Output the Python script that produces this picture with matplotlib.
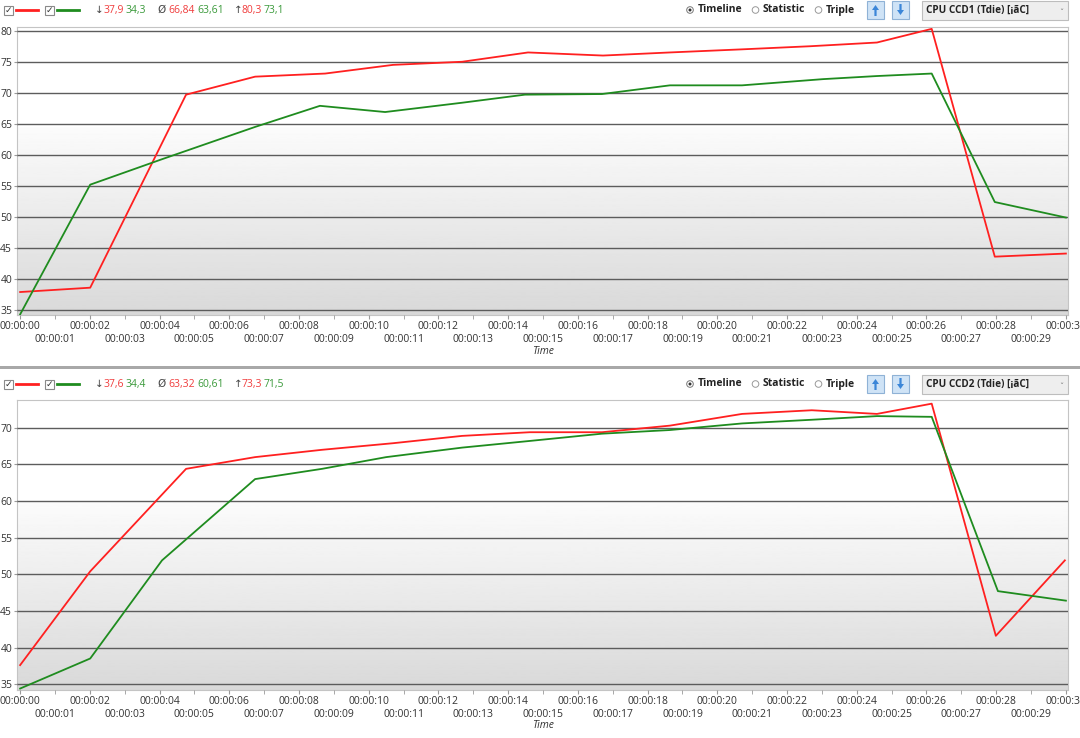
import numpy as np
import matplotlib
matplotlib.use("Agg")
import matplotlib.pyplot as plt
from matplotlib.patches import Rectangle, FancyArrow

plt.rcParams['font.family'] = ['Open Sans', 'DejaVu Sans']

# ---- data (seconds, degC) ----
top_red_t = [0, 2.01, 4.76, 6.74, 8.75, 10.7, 12.68, 14.57, 16.72, 18.64, 20.71, 22.66, 24.58, 26.15, 27.96, 30.0]
top_red_v = [37.9, 38.6, 69.7, 72.6, 73.1, 74.5, 75.0, 76.5, 76.0, 76.5, 77.0, 77.5, 78.1, 80.3, 43.6, 44.1]
top_green_t = [0, 2.01, 4.07, 6.74, 8.6, 10.47, 12.68, 14.48, 16.69, 18.64, 20.71, 23.03, 24.58, 26.15, 27.96, 30.0]
top_green_v = [34.3, 55.2, 59.3, 64.5, 67.9, 66.9, 68.4, 69.7, 69.8, 71.2, 71.2, 72.2, 72.7, 73.1, 52.4, 49.9]

bot_red_t = [0, 2.01, 4.76, 6.74, 8.66, 10.7, 12.68, 14.62, 16.69, 18.64, 20.71, 22.71, 24.58, 26.15, 27.99, 29.97]
bot_red_v = [37.6, 50.4, 64.4, 66.0, 67.0, 67.9, 68.9, 69.4, 69.4, 70.3, 71.9, 72.4, 71.9, 73.3, 41.6, 51.9]
bot_green_t = [0, 2.01, 4.07, 6.74, 8.66, 10.5, 12.68, 14.6, 16.69, 18.64, 20.71, 22.7, 24.58, 26.15, 28.05, 30.0]
bot_green_v = [34.4, 38.5, 51.9, 63.0, 64.4, 66.0, 67.3, 68.2, 69.2, 69.7, 70.6, 71.1, 71.6, 71.5, 47.7, 46.4]

top_stats = [("37,9", "34,3"), ("66,84", "63,61"), ("80,3", "73,1")]
bot_stats = [("37,6", "34,4"), ("63,32", "60,61"), ("73,3", "71,5")]
top_sensor = "CPU CCD1 (Tdie) [¡ãC]"
bot_sensor = "CPU CCD2 (Tdie) [¡ãC]"

even_s = list(range(0, 31, 2))
odd_s = list(range(1, 30, 2))
even_labels = ["00:00:%02d" % s for s in even_s]
odd_labels = ["00:00:%02d" % s for s in odd_s]

RED = "#ff2020"; GREEN = "#1f8c1f"
RED_T = "#f03c3c"; GREEN_T = "#3b9a3b"; DARK = "#333333"

W, H = 1080, 738
fig = plt.figure(figsize=(W / 100, H / 100), dpi=100)
fig.patch.set_facecolor("white")

def px_axes(l, t, r, b):
    return fig.add_axes([l / W, 1 - b / H, (r - l) / W, (b - t) / H])

def gradient(ax):
    n = 300
    col = np.ones(n)
    k = int(n * 0.35)
    col[k:] = np.linspace(0.985, 0.85, n - k)
    ax.imshow(col[:, None], cmap="gray", vmin=0, vmax=1, aspect="auto",
              extent=(0, 1, 0, 1), transform=ax.transAxes, zorder=0)

def panel(ax, rt, rv, gt, gv, ylim, yticks):
    gradient(ax)
    ax.plot(rt, rv, color=RED, lw=1.3, zorder=3)
    ax.plot(gt, gv, color=GREEN, lw=1.3, zorder=3)
    ax.set_xlim(-0.09, 30.06)
    ax.set_ylim(*ylim)
    ax.set_yticks(yticks)
    ax.set_yticklabels([str(v) for v in yticks])
    ax.set_xticks(even_s)
    ax.set_xticklabels(even_labels)
    ax.set_xticks(odd_s, minor=True)
    ax.set_xticklabels(odd_labels, minor=True)
    ax.grid(axis="y", color="#5c5c5c", lw=1.0, zorder=1)
    ax.set_axisbelow(False)
    for s in ax.spines.values():
        s.set_color("#c4c4c4")
    ax.tick_params(axis="x", which="major", length=3, pad=1.5, labelsize=7.5,
                   colors="#9a9a9a", labelcolor=DARK)
    ax.tick_params(axis="x", which="minor", length=3, pad=10.8, labelsize=7.5,
                   colors="#9a9a9a", labelcolor=DARK)
    ax.tick_params(axis="y", length=2.5, pad=1, labelsize=7.5, colors="#9a9a9a", labelcolor=DARK)

ax1 = px_axes(17, 27, 1068, 315)
panel(ax1, top_red_t, top_red_v, top_green_t, top_green_v, (34.2, 80.6), list(range(35, 81, 5)))
ax2 = px_axes(17, 400, 1068, 690)
panel(ax2, bot_red_t, bot_red_v, bot_green_t, bot_green_v, (34.2, 73.8), list(range(35, 71, 5)))

# overlay in pixel coordinates for UI header elements
ov = fig.add_axes([0, 0, 1, 1], zorder=5)
ov.set_xlim(0, W); ov.set_ylim(H, 0); ov.axis("off"); ov.patch.set_alpha(0)

ov.add_patch(Rectangle((0, 366), W, 3, facecolor="#a8a8a8", edgecolor="none"))
ov.text(543, 351, "Time", style="italic", fontsize=7.5, color=DARK, ha="center", va="center")
ov.text(543, 725, "Time", style="italic", fontsize=7.5, color=DARK, ha="center", va="center")

def header(y, stats, sensor):
    for x0, c in [(4, RED), (45, GREEN)]:
        ov.add_patch(Rectangle((x0, y - 4.5), 9, 9, facecolor="white", edgecolor="#8a8a8a", lw=0.8))
        ov.text(x0 + 4.5, y + 0.5, "\u2713", fontsize=6.5, color="#333333", ha="center", va="center",
                family="DejaVu Sans")
        ov.plot([x0 + 12, x0 + 34], [y, y], color=c, lw=2)
    syms = ["\u2193", "\u00d8", "\u2191"]
    xs = [(95, 103, 126), (157, 168, 197), (234, 242, 264)]
    for sym, (xa, xr, xg), (rv, gv) in zip(syms, xs, stats):
        ov.text(xa, y, sym, fontsize=7.5, color="#444444", ha="left", va="center", family="DejaVu Sans")
        ov.text(xr, y, rv, fontsize=7.5, color=RED_T, ha="left", va="center")
        ov.text(xg, y, gv, fontsize=7.5, color=GREEN_T, ha="left", va="center")
    # radio buttons
    ov.add_patch(plt.Circle((690, y), 3.3, facecolor="white", edgecolor="#777777", lw=0.7))
    ov.add_patch(plt.Circle((690, y), 1.5, facecolor="#333333", edgecolor="none"))
    ov.text(698, y, "Timeline", fontsize=7.5, fontweight="bold", color="#222222", ha="left", va="center")
    for cx, lab in [(755.5, "Statistic"), (818.5, "Triple")]:
        ov.add_patch(plt.Circle((cx, y), 3.3, facecolor="white", edgecolor="#999999", lw=0.7))
        ov.text(cx + 7.5, y, lab, fontsize=7.5, fontweight="bold", color="#222222", ha="left", va="center")
    # arrow buttons
    for bx, up in [(867, True), (892, False)]:
        ov.add_patch(Rectangle((bx, y - 9), 17, 18, facecolor="#cfe3f6", edgecolor="#8fb2d6", lw=0.8))
        if up:
            ov.add_patch(FancyArrow(bx + 8.5, y + 6, 0, -11, width=2.2, head_width=7, head_length=5,
                                    length_includes_head=True, color="#3b86d8", lw=0))
        else:
            ov.add_patch(FancyArrow(bx + 8.5, y - 6, 0, 11, width=2.2, head_width=7, head_length=5,
                                    length_includes_head=True, color="#3b86d8", lw=0))
    # dropdown
    ov.add_patch(Rectangle((922, y - 9.5), 146, 19, facecolor="#eeeeee", edgecolor="#bdbdbd", lw=0.8))
    ov.text(926, y, sensor, fontsize=7.2, fontweight="bold", color="#222222", ha="left", va="center")
    ov.text(1061, y + 3, "\u02c7", fontsize=6, color="#777777", ha="center", va="center", family="DejaVu Sans")

header(10, top_stats, top_sensor)
header(384, bot_stats, bot_sensor)

fig.savefig("out.png", dpi=100)
